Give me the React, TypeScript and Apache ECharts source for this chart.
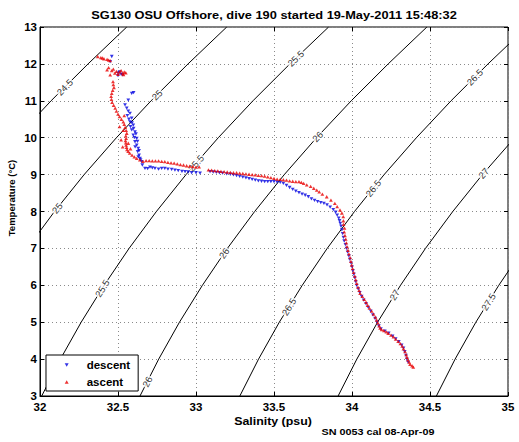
import React, { useEffect, useRef } from 'react';
import * as echarts from 'echarts';

const FONT = '"Liberation Sans", Arial, Helvetica, sans-serif';

// Potential density (sigma-theta) contours, salinity read at each temperature level
const contourTemps = [13, 12, 11, 10, 9, 8, 7, 6, 5, 4, 3];
const contourLevels = ['24.5', '25', '25.5', '26', '26.5', '27', '27.5'];
const sal245 = [32.556, 32.308, 32.071, 31.849];
const sal250 = [33.197, 32.949, 32.712, 32.49, 32.283, 32.093, 31.918];
const sal255 = [33.85, 33.602, 33.365, 33.143, 32.936, 32.746, 32.571, 32.411, 32.264, 32.131, 32.011];
const sal260 = [34.48, 34.232, 33.995, 33.773, 33.566, 33.376, 33.201, 33.041, 32.894, 32.761, 32.641];
const sal265 = [35.12, 34.872, 34.635, 34.413, 34.206, 34.016, 33.841, 33.681, 33.534, 33.401, 33.281];
const sal270 = [35.75, 35.502, 35.265, 35.043, 34.836, 34.646, 34.471, 34.311, 34.164, 34.031, 33.911];
const sal275 = [36.38, 36.132, 35.895, 35.673, 35.466, 35.276, 35.101, 34.941, 34.794, 34.661, 34.541];
const contourSal = [sal245, sal250, sal255, sal260, sal265, sal270, sal275];

// Contour labels
const labelLevels = ['24.5', '25', '25', '25.5', '25.5', '25.5', '26', '26', '26', '26.5', '26.5', '26.5', '27', '27', '27.5'];
const labelSal = [32.159, 32.75, 32.11, 33.639, 33.0, 32.399, 33.78, 33.18, 32.688, 34.787, 34.136, 33.596, 34.844, 34.273, 34.875];
const labelTemp = [11.37, 11.16, 8.09, 12.15, 9.31, 5.92, 10.03, 6.87, 3.39, 11.64, 8.63, 5.42, 9.04, 5.74, 5.55];

// Descent profile [salinity, temperature]
const descent = [
  [32.46, 12.2], [32.45, 12.06], [32.5, 11.75], [32.52, 11.72], [32.53, 11.7], [32.51, 11.78], [32.5, 11.68],
  [32.6, 11.22], [32.588, 11.2], [32.566, 11.02], [32.545, 10.89], [32.556, 10.8], [32.577, 10.66], [32.588, 10.53],
  [32.577, 10.43], [32.598, 10.34], [32.588, 10.21], [32.609, 10.16], [32.598, 10.07], [32.62, 9.98], [32.609, 9.89],
  [32.62, 9.8], [32.63, 9.71], [32.626, 9.62], [32.635, 9.53], [32.641, 9.44], [32.652, 9.35], [32.656, 9.26], [32.673, 9.17],
  [32.57, 10.5], [32.59, 10.4], [32.6, 10.25], [32.615, 10.1], [32.605, 10.0], [32.625, 9.9], [32.61, 9.75], [32.635, 9.65],
  [32.63, 9.48], [32.645, 9.4], [32.56, 10.6], [32.58, 10.3], [32.566, 10.72],
  [32.69, 9.16], [32.705, 9.2], [32.72, 9.18], [32.737, 9.17], [32.76, 9.15], [32.78, 9.17], [32.8, 9.17], [32.82, 9.15],
  [32.844, 9.14], [32.865, 9.12], [32.886, 9.11], [32.91, 9.09], [32.93, 9.08], [32.95, 9.07], [32.972, 9.05], [33.0, 9.05],
  [33.026, 9.04], [33.09, 9.08], [33.11, 9.07], [33.13, 9.06], [33.15, 9.05], [33.17, 9.04], [33.197, 9.02], [33.22, 9.01],
  [33.24, 8.99], [33.26, 8.97], [33.28, 8.95], [33.3, 8.93], [33.32, 8.91], [33.34, 8.89], [33.36, 8.87], [33.38, 8.85],
  [33.4, 8.83], [33.42, 8.82], [33.44, 8.81], [33.46, 8.81], [33.48, 8.81], [33.5, 8.81], [33.52, 8.8], [33.54, 8.79],
  [33.56, 8.76], [33.58, 8.71], [33.6, 8.65], [33.62, 8.6], [33.64, 8.55], [33.66, 8.51], [33.68, 8.47], [33.7, 8.44],
  [33.72, 8.4], [33.74, 8.34], [33.76, 8.3], [33.78, 8.27], [33.8, 8.24], [33.82, 8.22], [33.84, 8.18], [33.86, 8.12],
  [33.88, 8.05], [33.895, 7.98], [33.905, 7.9], [33.915, 7.82], [33.92, 7.75], [33.925, 7.68],
  [33.93, 7.6], [33.935, 7.5], [33.94, 7.4], [33.945, 7.3], [33.95, 7.2], [33.958, 7.1], [33.965, 7.0], [33.972, 6.9],
  [33.98, 6.8], [33.986, 6.7], [33.994, 6.6], [34.0, 6.5], [34.006, 6.4], [34.012, 6.3], [34.018, 6.2], [34.024, 6.1],
  [34.03, 6.0], [34.04, 5.9], [34.05, 5.8], [34.062, 5.7], [34.075, 5.6], [34.09, 5.5], [34.104, 5.4], [34.12, 5.3],
  [34.134, 5.2], [34.148, 5.1], [34.16, 5.0], [34.172, 4.9], [34.185, 4.82], [34.21, 4.76], [34.235, 4.7], [34.26, 4.62],
  [34.28, 4.55], [34.3, 4.47], [34.318, 4.38], [34.33, 4.3], [34.338, 4.2], [34.346, 4.1], [34.352, 4.0], [34.36, 3.92],
];

// Ascent profile [salinity, temperature]
const ascent = [
  [34.393, 3.78], [34.385, 3.82], [34.372, 3.86], [34.366, 3.92], [34.358, 3.98], [34.352, 4.05], [34.347, 4.12], [34.34, 4.2],
  [34.33, 4.28], [34.322, 4.35], [34.31, 4.42], [34.296, 4.48], [34.28, 4.54], [34.266, 4.6], [34.25, 4.65], [34.232, 4.7],
  [34.22, 4.74], [34.205, 4.77], [34.19, 4.8], [34.18, 4.84], [34.174, 4.9], [34.166, 4.98], [34.158, 5.06], [34.15, 5.14],
  [34.138, 5.22], [34.126, 5.3], [34.112, 5.38], [34.1, 5.46], [34.09, 5.54], [34.078, 5.62], [34.066, 5.7], [34.052, 5.78],
  [34.046, 5.86], [34.038, 5.95], [34.03, 6.05], [34.024, 6.15], [34.018, 6.25], [34.01, 6.35], [34.004, 6.45], [33.998, 6.55],
  [33.993, 6.65], [33.988, 6.75], [33.98, 6.85], [33.974, 6.95], [33.968, 7.05], [33.964, 7.15], [33.96, 7.25], [33.955, 7.35],
  [33.95, 7.45], [33.952, 7.55], [33.946, 7.65], [33.945, 7.75], [33.944, 7.86], [33.935, 7.96], [33.923, 8.04],
  [33.905, 8.13], [33.89, 8.22], [33.865, 8.31], [33.838, 8.4], [33.81, 8.47], [33.79, 8.53], [33.774, 8.58], [33.755, 8.63],
  [33.735, 8.68], [33.71, 8.72], [33.69, 8.76], [33.675, 8.79], [33.66, 8.81], [33.64, 8.81], [33.62, 8.82], [33.6, 8.83],
  [33.58, 8.85], [33.56, 8.86], [33.54, 8.87], [33.52, 8.88], [33.5, 8.9], [33.48, 8.92], [33.46, 8.94], [33.44, 8.96],
  [33.42, 8.97], [33.4, 8.98], [33.38, 8.99], [33.36, 9.0], [33.34, 9.01], [33.32, 9.02], [33.3, 9.03], [33.28, 9.04],
  [33.26, 9.05], [33.24, 9.05], [33.22, 9.06], [33.2, 9.07], [33.18, 9.08], [33.16, 9.09], [33.14, 9.1], [33.12, 9.11],
  [33.1, 9.12], [33.08, 9.13],
  [33.02, 9.21], [33.0, 9.2], [32.98, 9.22], [32.96, 9.23], [32.94, 9.24], [32.92, 9.26], [32.9, 9.27], [32.88, 9.29],
  [32.86, 9.31], [32.84, 9.32], [32.82, 9.33], [32.8, 9.35], [32.78, 9.36], [32.76, 9.37], [32.74, 9.37], [32.72, 9.37],
  [32.7, 9.38], [32.68, 9.38], [32.66, 9.36], [32.64, 9.4], [32.62, 9.44], [32.605, 9.48], [32.59, 9.53], [32.575, 9.58],
  [32.565, 9.63], [32.558, 9.68], [32.555, 9.74], [32.552, 9.8], [32.55, 9.86], [32.548, 9.92], [32.552, 9.98], [32.55, 10.05],
  [32.556, 10.12], [32.552, 10.2], [32.546, 10.28], [32.54, 10.36], [32.534, 10.43], [32.522, 10.5], [32.51, 10.57], [32.5, 10.64],
  [32.49, 10.72], [32.482, 10.8], [32.472, 10.88], [32.462, 10.96], [32.458, 11.04], [32.456, 11.12], [32.46, 11.2], [32.466, 11.28],
  [32.474, 11.36], [32.47, 11.44], [32.468, 11.52],
  [32.52, 9.94], [32.534, 10.2], [32.566, 9.85], [32.51, 10.3], [32.53, 9.75], [32.54, 10.6], [32.58, 9.7],
  [32.45, 11.7], [32.5, 11.72], [32.48, 11.75], [32.55, 11.76], [32.51, 11.78], [32.49, 11.8], [32.46, 11.82], [32.52, 11.82],
  [32.47, 11.86], [32.44, 11.9], [32.53, 11.74], [32.54, 11.78], [32.535, 11.71], [32.43, 11.84],
  [32.45, 12.09], [32.43, 12.12], [32.41, 12.14], [32.39, 12.17], [32.37, 12.2], [32.44, 12.1], [32.4, 12.16],
];

const titleText = 'SG130 OSU Offshore, dive 190 started 19-May-2011 15:48:32';
const xName = 'Salinity (psu)';
const yName = 'Temperature (°C)';
const footText = 'SN 0053 cal 08-Apr-09';
const seriesNames = ['descent', 'ascent'];

const DOWN_TRI = 'path://M0,0L10,0L5,8.66Z';

export default function App() {
  const ref = useRef<HTMLDivElement>(null);

  useEffect(() => {
    if (!ref.current) return;
    const chart = echarts.init(ref.current, undefined, { renderer: 'svg' });

    const contourSeries = contourLevels.map((lvl, k) => ({
      type: 'line',
      name: 'sigma ' + lvl,
      data: contourSal[k].map((s, i) => [s, contourTemps[i]]),
      symbol: 'none',
      lineStyle: { color: '#000', width: 1 },
      clip: true,
      silent: true,
      z: 1,
      animation: false,
    }));

    const makeLabelData = (angles: number[]) =>
      labelLevels.map((lvl, i) => ({
        name: lvl,
        value: [labelSal[i], labelTemp[i]],
        label: { rotate: angles[i] },
      }));

    const axisCommonX = { type: 'value', min: 32, max: 35, interval: 0.5 };
    const axisCommonY = { type: 'value', min: 3, max: 13, interval: 1 };

    const option: any = {
      animation: false,
      backgroundColor: '#fff',
      grid: {
        left: 40,
        top: 27,
        right: 11,
        bottom: 46,
        show: true,
        borderColor: '#000',
        borderWidth: 1,
        backgroundColor: 'transparent',
      },
      xAxis: [
        {
          ...axisCommonX,
          position: 'bottom',
          axisLine: { show: true, lineStyle: { color: '#000', width: 1 } },
          axisTick: { show: true, inside: true, length: 4, lineStyle: { color: '#000' } },
          axisLabel: { color: '#000', fontSize: 11.5, fontWeight: 'bold', fontFamily: FONT, margin: 5 },
          splitLine: { show: true, lineStyle: { color: '#8a8a8a', type: [1, 3], width: 1 } },
        },
        {
          ...axisCommonX,
          position: 'top',
          axisLine: { show: false },
          axisTick: { show: true, inside: true, length: 4, lineStyle: { color: '#000' } },
          axisLabel: { show: false },
          splitLine: { show: false },
        },
      ],
      yAxis: [
        {
          ...axisCommonY,
          position: 'left',
          axisLine: { show: true, lineStyle: { color: '#000', width: 1 } },
          axisTick: { show: true, inside: true, length: 4, lineStyle: { color: '#000' } },
          axisLabel: { color: '#000', fontSize: 11.5, fontWeight: 'bold', fontFamily: FONT, margin: 3 },
          splitLine: { show: true, lineStyle: { color: '#8a8a8a', type: [1, 3], width: 1 } },
        },
        {
          ...axisCommonY,
          position: 'right',
          axisLine: { show: false },
          axisTick: { show: true, inside: true, length: 4, lineStyle: { color: '#000' } },
          axisLabel: { show: false },
          splitLine: { show: false },
        },
      ],
      legend: {
        orient: 'vertical',
        left: 46,
        top: 355,
        data: [
          { name: seriesNames[0], icon: DOWN_TRI },
          { name: seriesNames[1], icon: 'triangle' },
        ],
        itemWidth: 4,
        itemHeight: 3.5,
        itemGap: 3,
        padding: [3, 8, 2, 18.7],
        borderColor: '#000',
        borderWidth: 1,
        borderRadius: 0,
        backgroundColor: '#fff',
        textStyle: {
          color: '#000',
          fontSize: 11.5,
          fontWeight: 'bold',
          fontFamily: FONT,
          lineHeight: 14,
          padding: [0, 0, 0, 13],
        },
        selectedMode: false,
      },
      series: [
        ...contourSeries,
        {
          id: 'clabels',
          type: 'scatter',
          data: makeLabelData(labelLevels.map(() => 45)),
          symbol: 'circle',
          symbolSize: 1,
          itemStyle: { color: 'transparent' },
          label: {
            show: true,
            position: 'inside',
            formatter: '{b}',
            color: '#000',
            fontSize: 9.5,
            fontFamily: FONT,
            backgroundColor: '#fff',
            padding: [0, 1],
            lineHeight: 10,
          },
          silent: true,
          z: 2,
        },
        {
          name: seriesNames[0],
          type: 'scatter',
          data: descent,
          symbol: DOWN_TRI,
          symbolSize: [3.8, 3.3],
          itemStyle: { color: '#0000e0' },
          z: 3,
        },
        {
          name: seriesNames[1],
          type: 'scatter',
          data: ascent,
          symbol: 'triangle',
          symbolSize: [3.8, 3.3],
          itemStyle: { color: '#e80000' },
          z: 4,
        },
      ],
      graphic: [
        {
          type: 'text',
          x: 274,
          y: 15,
          scaleX: 1.22,
          style: {
            text: titleText,
            fontSize: 10.5,
            fontWeight: 'bold',
            fontFamily: FONT,
            fill: '#000',
            align: 'center',
            verticalAlign: 'middle',
          },
        },
        {
          type: 'text',
          x: 273,
          y: 421,
          scaleX: 1.18,
          style: {
            text: xName,
            fontSize: 10.5,
            fontWeight: 'bold',
            fontFamily: FONT,
            fill: '#000',
            align: 'center',
            verticalAlign: 'middle',
          },
        },
        {
          type: 'text',
          x: 11,
          y: 198,
          rotation: Math.PI / 2,
          style: {
            text: yName,
            fontSize: 9.5,
            fontWeight: 'bold',
            fontFamily: FONT,
            fill: '#000',
            align: 'center',
            verticalAlign: 'middle',
          },
        },
        {
          type: 'text',
          x: 378,
          y: 432,
          scaleX: 1.2,
          style: {
            text: footText,
            fontSize: 9,
            fontWeight: 'bold',
            fontFamily: FONT,
            fill: '#000',
            align: 'center',
            verticalAlign: 'middle',
          },
        },
      ],
    };

    chart.setOption(option);

    // Rotate each contour label along its contour, using the chart's own scales
    const angles = labelLevels.map((lvl, i) => {
      const k = contourLevels.indexOf(lvl);
      const sal = contourSal[k];
      const t = labelTemp[i];
      let j = 0;
      while (j < sal.length - 2 && contourTemps[j + 1] > t) j++;
      const pHi = chart.convertToPixel({ xAxisIndex: 0, yAxisIndex: 0 } as any, [sal[j], contourTemps[j]]) as number[];
      const pLo = chart.convertToPixel({ xAxisIndex: 0, yAxisIndex: 0 } as any, [sal[j + 1], contourTemps[j + 1]]) as number[];
      return (Math.atan2(pLo[1] - pHi[1], pHi[0] - pLo[0]) * 180) / Math.PI;
    });
    chart.setOption({ series: [{ id: 'clabels', data: makeLabelData(angles) }] });

    return () => {
      chart.dispose();
    };
  }, []);

  return (
    <div
      ref={ref}
      style={{ position: 'absolute', left: 0, top: 0, width: 519, height: 442, background: '#fff' }}
    />
  );
}
